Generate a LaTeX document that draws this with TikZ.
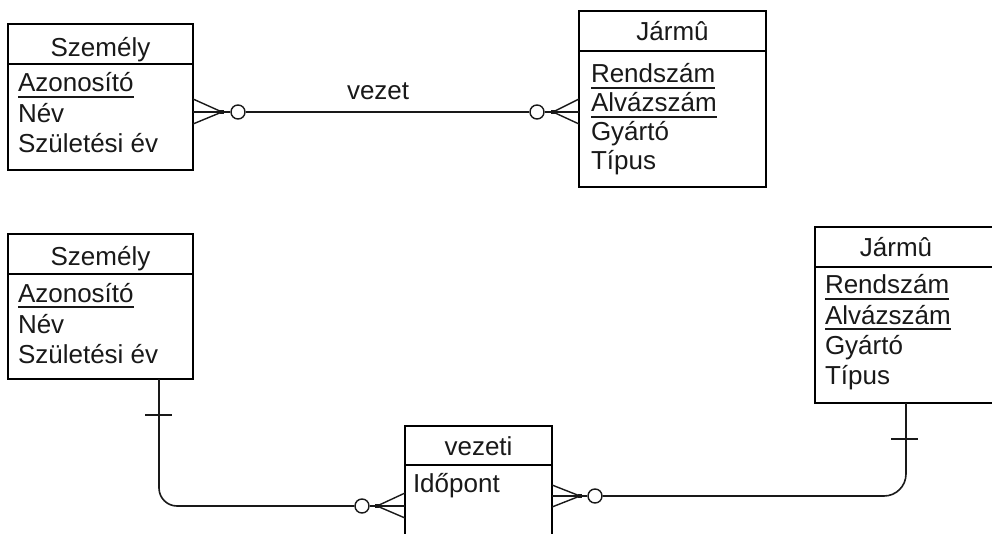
\documentclass[tikz,border=0pt]{standalone}
\usepackage{fontspec}
\setmainfont{Liberation Sans}
\usetikzlibrary{calc}
\tikzset{
  box/.style={draw, line width=1.6pt, anchor=north west, inner sep=0pt, outer sep=0pt},
  txt/.style={inner sep=0pt, outer sep=0pt, font=\fontsize{26}{30}\selectfont, anchor=base west, text=black!90},
  ttl/.style={txt, anchor=base},
  ln/.style={line width=1.6pt, draw=black!90},
  foot/.style={line width=1.4pt, draw=black!90},
  ulin/.style={line width=1.6pt, draw=black!90},
  ring/.style={circle, draw=black!90, line width=1.4pt, minimum size=14pt, inner sep=0pt, fill=white},
}
\newcommand{\ulnode}[1]{\draw[ulin] ([yshift=-5pt]#1.base west) -- ([yshift=-5pt]#1.base east);}
\begin{document}
\begin{tikzpicture}[x=1pt,y=-1pt]
\clip (0,0) rectangle (992,534);
\fill[white] (0,0) rectangle (992,534);

% ---------- top: Személy ----------
\node[box, minimum width=185pt, minimum height=40pt] (p1h) at (8,24) {};
\node[box, minimum width=185pt, minimum height=106pt] (p1b) at (8,64) {};
\node[ttl] (p1t) at (100.5,57) {Személy};
\node[txt] (p1a) at (18,92) {Azonosító};
\node[txt] (p1n) at (18,123) {Név};
\node[txt] (p1s) at (18,153) {Születési év};
\ulnode{p1a}

% ---------- top: Jármû ----------
\node[box, minimum width=187pt, minimum height=40pt] (j1h) at (579,11) {};
\node[box, minimum width=187pt, minimum height=136pt] (j1b) at (579,51) {};
\node[ttl] (j1t) at (672.5,41) {Jármû};
\node[txt] (j1r) at (591,83) {Rendszám};
\node[txt] (j1a) at (591,112) {Alvázszám};
\node[txt] (j1g) at (591,141) {Gyártó};
\node[txt] (j1p) at (591,170) {Típus};
\ulnode{j1r}
\ulnode{j1a}

% ---------- top relationship ----------
\node[ring] (c1) at (238,112) {};
\node[ring] (c2) at (537,112) {};
\coordinate (f1) at (222,112);
\coordinate (f2) at (553,112);
\draw[ln] (c1) -- (c2);
\node[txt] (lbl) at (347,100) {vezet};
\draw[ln] (c1) -- (f1);
\draw[ln] (c2) -- (f2);
\draw[foot] (f1) -- (193,99);
\draw[foot] (f1) -- (193,112);
\draw[foot] (f1) -- (193,124);
\draw[foot] (f2) -- (579,99);
\draw[foot] (f2) -- (579,112);
\draw[foot] (f2) -- (579,124);
\fill[black!90] ($(f1)+(-2,-2)$) rectangle ($(f1)+(2,2)$);
\fill[black!90] ($(f2)+(-2,-2)$) rectangle ($(f2)+(2,2)$);

% ---------- bottom: Személy ----------
\node[box, minimum width=185pt, minimum height=40pt] (p2h) at (8,234) {};
\node[box, minimum width=185pt, minimum height=105pt] (p2b) at (8,274) {};
\node[ttl] (p2t) at (100.5,266) {Személy};
\node[txt] (p2a) at (18,302) {Azonosító};
\node[txt] (p2n) at (18,333) {Név};
\node[txt] (p2s) at (18,363) {Születési év};
\ulnode{p2a}

% ---------- bottom: vezeti ----------
\node[box, minimum width=147pt, minimum height=39pt] (vh) at (405,426) {};
\node[box, minimum width=147pt, minimum height=100pt] (vb) at (405,465) {};
\node[ttl] (vt) at (478.5,455) {vezeti};
\node[txt] (vi) at (413,492) {Időpont};

% ---------- bottom: Jármû ----------
\node[box, minimum width=200pt, minimum height=40pt] (j2h) at (815,227) {};
\node[box, minimum width=200pt, minimum height=136pt] (j2b) at (815,267) {};
\node[ttl] (j2t) at (896,257) {Jármû};
\node[txt] (j2r) at (825,294) {Rendszám};
\node[txt] (j2a) at (825,324) {Alvázszám};
\node[txt] (j2g) at (825,354) {Gyártó};
\node[txt] (j2p) at (825,384) {Típus};
\ulnode{j2r}
\ulnode{j2a}

% ---------- bottom relationships ----------
\node[ring] (c3) at (362,506) {};
\node[ring] (c4) at (595,496) {};
\coordinate (f3) at (377,506);
\coordinate (f4) at (580,496);
\coordinate (k1) at (159,506);
\coordinate (k2) at (906,496);

\draw[ln, rounded corners=18pt] (p2b.south -| k1) -- (k1) -- (c3);
\draw[ln] (145,415) -- (172,415);
\draw[ln, rounded corners=22pt] (j2b.south -| k2) -- (k2) -- (c4);
\draw[ln] (891,439) -- (918,439);

\draw[ln] (c3) -- (f3);
\draw[ln] (c4) -- (f4);
\draw[foot] (f3) -- (405,493);
\draw[foot] (f3) -- (405,506);
\draw[foot] (f3) -- (405,518);
\draw[foot] (f4) -- (552,485);
\draw[foot] (f4) -- (552,496);
\draw[foot] (f4) -- (552,507);
\fill[black!90] ($(f3)+(-2,-2)$) rectangle ($(f3)+(2,2)$);
\fill[black!90] ($(f4)+(-2,-2)$) rectangle ($(f4)+(2,2)$);
\end{tikzpicture}
\end{document}
